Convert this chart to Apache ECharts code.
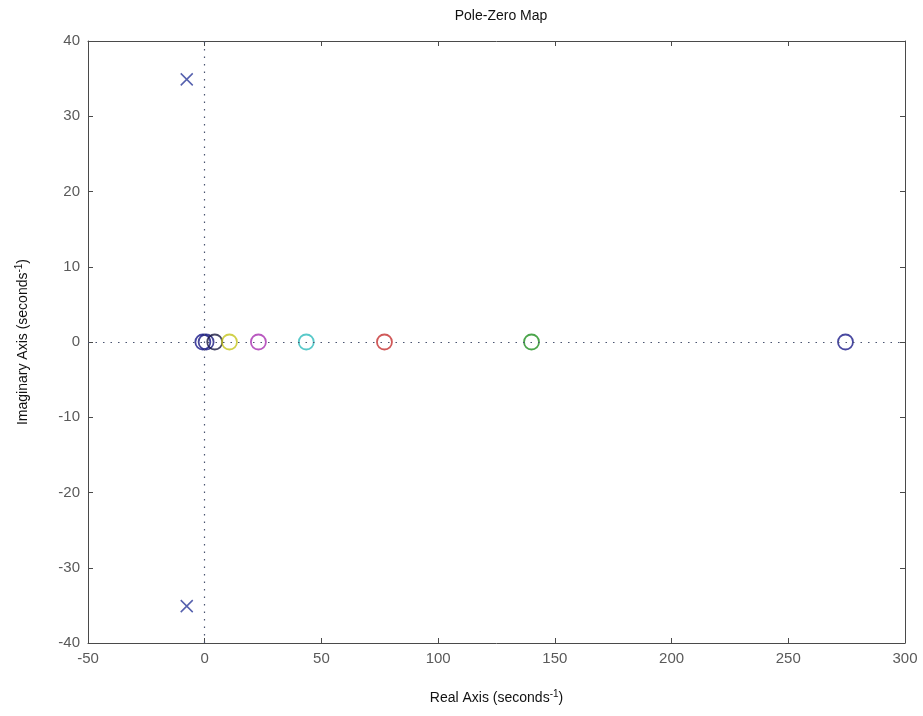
<!DOCTYPE html>
<html>
<head>
<meta charset="utf-8">
<script src="https://cdn.jsdelivr.net/npm/echarts@6/dist/echarts.min.js"></script>
<style>html,body{margin:0;padding:0;background:#fff}#c{width:923px;height:716px}</style>
</head>
<body>
<div id="c"></div>
<script>
// Data
var title = 'Pole-Zero Map';
var xTicks = [-50, 0, 50, 100, 150, 200, 250, 300];
var yTicks = [-40, -30, -20, -10, 0, 10, 20, 30, 40];
var poleReal = [-7.7, -7.7];
var poleImag = [34.9, -35.1];
var zeroReal = [-0.8, 0.6, 4.3, 10.6, 23, 43.5, 77, 140, 274.5];
var zeroImag = [0, 0, 0, 0, 0, 0, 0, 0, 0];

// Style
var zeroColors = ['#16168a', '#1a1a80', '#181840', '#c4c41c', '#a830b0', '#2ebcbc', '#c43030', '#1e8e1e', '#1a1a88'];
var poleColor = '#2c3a9a';
var axisCol = '#4a4a4a';
var FONT = '"Liberation Sans Narrow", "Arial Narrow", "Liberation Sans", Arial, sans-serif';

var chart = echarts.init(document.getElementById('c'));
var zeroData = zeroReal.map(function (x, i) {
  return { value: [x, zeroImag[i]], itemStyle: { color: 'rgba(0,0,0,0)', borderColor: zeroColors[i], borderWidth: 1.8 } };
});
var poleData = poleReal.map(function (x, i) { return [x, poleImag[i]]; });

var baseX = {
  type: 'value', min: xTicks[0], max: xTicks[xTicks.length - 1], interval: 50,
  axisLine: { show: true, onZero: false, lineStyle: { color: axisCol, width: 1 } },
  axisTick: { show: true, inside: true, length: 5, lineStyle: { color: axisCol } },
  splitLine: { show: false }
};
var baseY = {
  type: 'value', min: yTicks[0], max: yTicks[yTicks.length - 1], interval: 10,
  axisLine: { show: true, onZero: false, lineStyle: { color: axisCol, width: 1 } },
  axisTick: { show: true, inside: true, length: 5, lineStyle: { color: axisCol } },
  splitLine: { show: false }
};
var labelFont = { color: '#5a5a5a', fontSize: 15, fontFamily: FONT };
var richName = {
  n: { fontSize: 14, color: '#111', fontFamily: FONT },
  s: { fontSize: 10, color: '#111', fontFamily: FONT, verticalAlign: 'top', padding: [0, 0, 8, 0] }
};

chart.setOption({
  animation: false,
  backgroundColor: '#fff',
  title: {
    text: title, left: 496, top: 4, textAlign: 'center',
    textStyle: { fontSize: 14, fontWeight: 'normal', color: '#111', fontFamily: FONT }
  },
  grid: { left: 88, right: 18, top: 41, bottom: 73 },
  xAxis: [
    Object.assign({}, baseX, {
      position: 'bottom',
      axisLabel: Object.assign({ margin: 8 }, labelFont),
      name: '{n|Real Axis (seconds}{s|-1}{n|)}', nameLocation: 'middle', nameGap: 46,
      nameTextStyle: { rich: richName }
    }),
    Object.assign({}, baseX, { position: 'top', axisLabel: { show: false } })
  ],
  yAxis: [
    Object.assign({}, baseY, {
      position: 'left',
      axisLabel: Object.assign({ margin: 8 }, labelFont),
      name: '{n|Imaginary Axis (seconds}{s|-1}{n|)}', nameLocation: 'middle', nameGap: 56,
      nameTextStyle: { rich: richName }
    }),
    Object.assign({}, baseY, { position: 'right', axisLabel: { show: false } })
  ],
  series: [
    {
      type: 'scatter', data: [], silent: true,
      markLine: {
        silent: true, symbol: 'none', label: { show: false },
        lineStyle: { color: '#4a5470', type: [1.5, 6], width: 1.2 },
        data: [{ xAxis: 0 }, { yAxis: 0 }]
      }
    },
    {
      type: 'scatter', data: zeroData, symbol: 'circle', symbolSize: 15, z: 3
    },
    {
      type: 'scatter', data: poleData, symbol: 'path://M0,0L10,10M10,0L0,10', symbolSize: 12, z: 4,
      itemStyle: { color: 'none', borderColor: poleColor, borderWidth: 1.5 }
    }
  ]
});
</script>
</body>
</html>
